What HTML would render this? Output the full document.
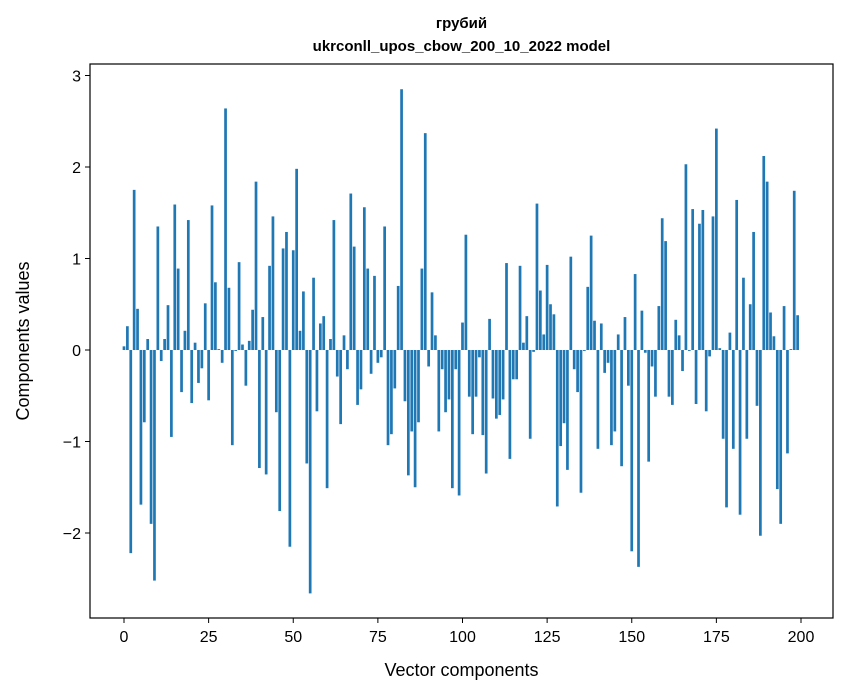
<!DOCTYPE html>
<html><head><meta charset="utf-8"><style>
body{margin:0;background:#fff;}
svg{display:block;font-family:"Liberation Sans","DejaVu Sans",sans-serif;}
</style></head><body>
<svg id="chart" width="847" height="696" viewBox="0 0 847 696">
<rect width="847" height="696" fill="#fff"/>
<text x="461.5" y="28" text-anchor="middle" font-size="15" font-weight="bold">грубий</text>
<text x="461.5" y="51" text-anchor="middle" font-size="15" font-weight="bold">ukrconll_upos_cbow_200_10_2022 model</text>
<g id="bars"></g>
<rect x="90" y="64" width="743" height="554" fill="none" stroke="#000" stroke-width="1.2"/>
<g id="xticks"></g>
<g id="yticks"></g>
<text x="461.5" y="676" text-anchor="middle" font-size="18">Vector components</text>
<text transform="translate(29,341) rotate(-90)" text-anchor="middle" font-size="18">Components values</text>
</svg>
<script>
const values = [0.04,0.26,-2.22,1.75,0.45,-1.69,-0.79,0.12,-1.9,-2.52,
1.35,-0.12,0.12,0.49,-0.95,1.59,0.89,-0.46,0.21,1.42,
-0.58,0.08,-0.36,-0.2,0.51,-0.55,1.58,0.74,0.01,-0.14,
2.64,0.68,-1.04,-0.01,0.96,0.06,-0.39,0.1,0.44,1.84,
-1.29,0.36,-1.36,0.92,1.46,-0.68,-1.76,1.11,1.29,-2.15,
1.09,1.98,0.21,0.64,-1.24,-2.66,0.79,-0.67,0.29,0.37,
-1.51,0.12,1.42,-0.29,-0.81,0.16,-0.21,1.71,1.13,-0.6,
-0.43,1.56,0.89,-0.26,0.81,-0.14,-0.08,1.35,-1.04,-0.92,
-0.42,0.7,2.85,-0.56,-1.37,-0.89,-1.5,-0.79,0.89,2.37,
-0.18,0.63,0.16,-0.89,-0.21,-0.68,-0.54,-1.51,-0.21,-1.59,
0.3,1.26,-0.51,-0.92,-0.51,-0.08,-0.93,-1.35,0.34,-0.53,
-0.75,-0.71,-0.54,0.95,-1.19,-0.32,-0.32,0.92,0.08,0.37,
-0.97,-0.02,1.6,0.65,0.17,0.93,0.5,0.39,-1.71,-1.05,
-0.8,-1.31,1.02,-0.21,-0.46,-1.56,-0.01,0.69,1.25,0.32,
-1.08,0.29,-0.25,-0.14,-1.04,-0.89,0.17,-1.27,0.36,-0.39,
-2.2,0.83,-2.37,0.43,-0.03,-1.22,-0.18,-0.51,0.48,1.44,
1.19,-0.51,-0.6,0.33,0.16,-0.23,2.03,-0.01,1.54,-0.59,
1.38,1.53,-0.67,-0.07,1.46,2.42,0.02,-0.97,-1.72,0.19,
-1.08,1.64,-1.8,0.79,-0.97,0.5,1.29,-0.61,-2.03,2.12,
1.84,0.41,0.15,-1.52,-1.9,0.48,-1.13,0.01,1.74,0.38];
const xTicks = [0,25,50,75,100,125,150,175,200];
const yTicks = [-2,-1,0,1,2,3];
const yTickLabels = ["\u22122","\u22121","0","1","2","3"];
const NS="http://www.w3.org/2000/svg";
function xs(v){return 124+v*3.385;}
function ys(v){return 350-v*91.5;}
const bw=0.8*3.385;
const bars=document.getElementById('bars');
values.forEach((v,i)=>{
  const r=document.createElementNS(NS,'rect');
  const y0=ys(0), y1=ys(v);
  r.setAttribute('x',xs(i)-bw/2);
  r.setAttribute('y',Math.min(y0,y1));
  r.setAttribute('width',bw);
  r.setAttribute('height',Math.max(Math.abs(y1-y0),0.3));
  r.setAttribute('fill','#1f77b4');
  
  
  bars.appendChild(r);
});
const xg=document.getElementById('xticks');
xTicks.forEach(t=>{
  const l=document.createElementNS(NS,'line');
  l.setAttribute('x1',xs(t));l.setAttribute('x2',xs(t));
  l.setAttribute('y1',618);l.setAttribute('y2',623);
  l.setAttribute('stroke','#000');
  
  
  xg.appendChild(l);
  const tx=document.createElementNS(NS,'text');
  tx.setAttribute('x',xs(t));tx.setAttribute('y',642);
  tx.setAttribute('text-anchor','middle');tx.setAttribute('font-size','16');
  tx.textContent=t;
  
  
  xg.appendChild(tx);
});
const yg=document.getElementById('yticks');
yTicks.forEach((t,i)=>{
  const l=document.createElementNS(NS,'line');
  l.setAttribute('x1',85);l.setAttribute('x2',90);
  l.setAttribute('y1',ys(t));l.setAttribute('y2',ys(t));
  l.setAttribute('stroke','#000');
  
  
  yg.appendChild(l);
  const tx=document.createElementNS(NS,'text');
  tx.setAttribute('x',81);tx.setAttribute('y',ys(t)+6);
  tx.setAttribute('text-anchor','end');tx.setAttribute('font-size','16');
  tx.textContent=yTickLabels[i];
  
  
  yg.appendChild(tx);
});
</script>
</body></html>
